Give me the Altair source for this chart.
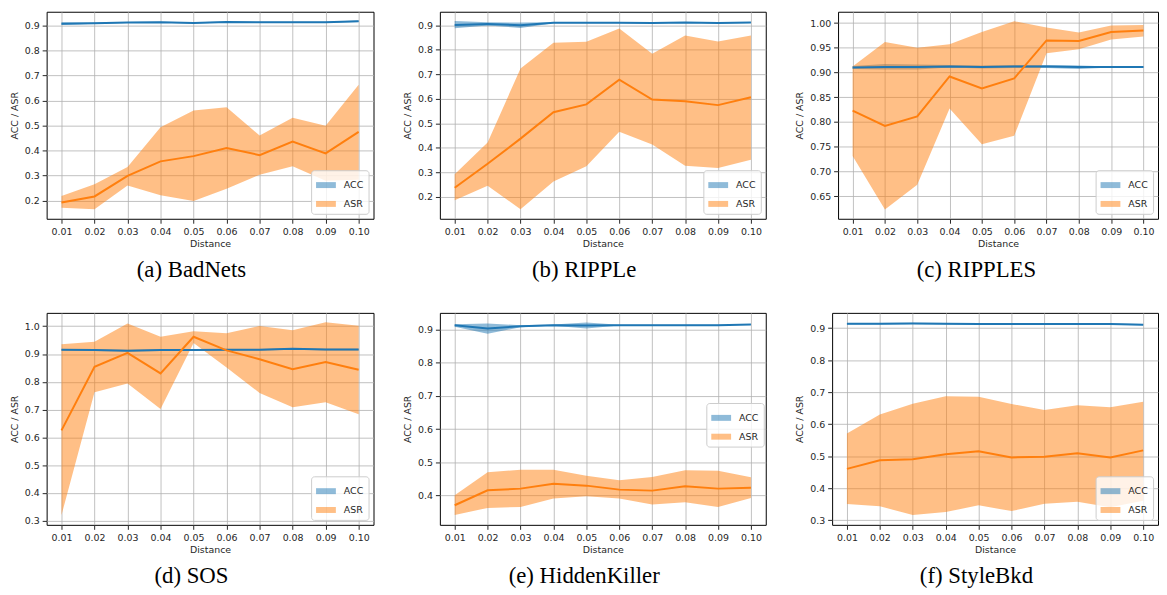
import altair as alt
import pandas as pd

DIST = [0.01, 0.02, 0.03, 0.04, 0.05, 0.06, 0.07, 0.08, 0.09, 0.10]
SERIES = ["ACC", "ASR"]
COLORS = ["#1f77b4", "#ff7f0e"]

# (a) BadNets
BADNETS_ACC = [0.906, 0.908, 0.911, 0.912, 0.909, 0.913, 0.912, 0.912, 0.912, 0.916]
BADNETS_ACC_LO = [0.901, 0.906, 0.909, 0.910, 0.907, 0.911, 0.910, 0.910, 0.910, 0.913]
BADNETS_ACC_HI = [0.912, 0.911, 0.913, 0.914, 0.912, 0.915, 0.914, 0.914, 0.914, 0.919]
BADNETS_ASR = [0.193, 0.217, 0.299, 0.357, 0.378, 0.410, 0.382, 0.436, 0.389, 0.475]
BADNETS_ASR_LO = [0.172, 0.166, 0.261, 0.222, 0.199, 0.248, 0.304, 0.338, 0.280, 0.284]
BADNETS_ASR_HI = [0.219, 0.266, 0.335, 0.493, 0.560, 0.573, 0.460, 0.531, 0.499, 0.663]

# (b) RIPPLe
RIPPLE_ACC = [0.902, 0.906, 0.901, 0.911, 0.911, 0.911, 0.910, 0.912, 0.910, 0.912]
RIPPLE_ACC_LO = [0.888, 0.900, 0.890, 0.909, 0.909, 0.909, 0.908, 0.910, 0.908, 0.910]
RIPPLE_ACC_HI = [0.918, 0.913, 0.912, 0.913, 0.913, 0.913, 0.912, 0.914, 0.912, 0.914]
RIPPLE_ASR = [0.236, 0.334, 0.437, 0.545, 0.577, 0.678, 0.597, 0.590, 0.574, 0.606]
RIPPLE_ASR_LO = [0.185, 0.244, 0.148, 0.261, 0.324, 0.465, 0.413, 0.326, 0.317, 0.350]
RIPPLE_ASR_HI = [0.291, 0.421, 0.724, 0.829, 0.833, 0.887, 0.784, 0.859, 0.834, 0.859]

# (c) RIPPLES
RIPPLES_ACC = [0.910, 0.911, 0.911, 0.912, 0.911, 0.912, 0.912, 0.911, 0.911, 0.911]
RIPPLES_ACC_LO = [0.907, 0.906, 0.906, 0.910, 0.908, 0.909, 0.909, 0.907, 0.910, 0.910]
RIPPLES_ACC_HI = [0.913, 0.917, 0.916, 0.915, 0.914, 0.915, 0.915, 0.914, 0.912, 0.912]
RIPPLES_ASR = [0.823, 0.792, 0.811, 0.892, 0.868, 0.888, 0.965, 0.964, 0.982, 0.985]
RIPPLES_ASR_LO = [0.731, 0.623, 0.673, 0.827, 0.755, 0.772, 0.939, 0.947, 0.967, 0.973]
RIPPLES_ASR_HI = [0.912, 0.962, 0.950, 0.957, 0.982, 1.004, 0.991, 0.981, 0.995, 0.996]

# (d) SOS
SOS_ACC = [0.915, 0.914, 0.912, 0.914, 0.914, 0.915, 0.915, 0.919, 0.916, 0.916]
SOS_ACC_LO = [0.912, 0.911, 0.909, 0.911, 0.911, 0.912, 0.912, 0.916, 0.913, 0.913]
SOS_ACC_HI = [0.918, 0.917, 0.915, 0.917, 0.917, 0.918, 0.918, 0.922, 0.919, 0.919]
SOS_ASR = [0.625, 0.854, 0.904, 0.830, 0.962, 0.913, 0.881, 0.845, 0.871, 0.843]
SOS_ASR_LO = [0.320, 0.762, 0.794, 0.702, 0.940, 0.851, 0.760, 0.708, 0.726, 0.683]
SOS_ASR_HI = [0.935, 0.944, 1.010, 0.962, 0.982, 0.975, 1.001, 0.985, 1.014, 1.002]

# (e) HiddenKiller
HK_ACC = [0.913, 0.903, 0.910, 0.913, 0.912, 0.913, 0.913, 0.913, 0.913, 0.915]
HK_ACC_LO = [0.908, 0.887, 0.907, 0.911, 0.903, 0.912, 0.912, 0.912, 0.912, 0.914]
HK_ACC_HI = [0.916, 0.918, 0.913, 0.915, 0.921, 0.914, 0.914, 0.914, 0.914, 0.916]
HK_ASR = [0.371, 0.416, 0.421, 0.436, 0.430, 0.418, 0.415, 0.428, 0.421, 0.424]
HK_ASR_LO = [0.342, 0.363, 0.366, 0.391, 0.398, 0.391, 0.373, 0.380, 0.366, 0.393]
HK_ASR_HI = [0.401, 0.470, 0.478, 0.478, 0.460, 0.446, 0.456, 0.476, 0.475, 0.455]

# (f) StyleBkd
SB_ACC = [0.914, 0.914, 0.915, 0.914, 0.913, 0.913, 0.913, 0.913, 0.913, 0.911]
SB_ACC_LO = [0.912, 0.912, 0.913, 0.912, 0.911, 0.911, 0.911, 0.911, 0.911, 0.909]
SB_ACC_HI = [0.916, 0.916, 0.917, 0.916, 0.915, 0.915, 0.915, 0.915, 0.915, 0.913]
SB_ASR = [0.460, 0.487, 0.490, 0.506, 0.515, 0.496, 0.498, 0.509, 0.496, 0.518]
SB_ASR_LO = [0.350, 0.343, 0.316, 0.325, 0.346, 0.328, 0.351, 0.357, 0.340, 0.360]
SB_ASR_HI = [0.571, 0.630, 0.664, 0.687, 0.686, 0.663, 0.644, 0.659, 0.653, 0.670]

Y_TICKS_A = [0.2, 0.3, 0.4, 0.5, 0.6, 0.7, 0.8, 0.9]
Y_TICKS_C = [0.65, 0.70, 0.75, 0.80, 0.85, 0.90, 0.95, 1.00]
Y_TICKS_D = [0.3, 0.4, 0.5, 0.6, 0.7, 0.8, 0.9, 1.0]
Y_TICKS_E = [0.4, 0.5, 0.6, 0.7, 0.8, 0.9]
Y_TICKS_F = [0.3, 0.4, 0.5, 0.6, 0.7, 0.8, 0.9]

TEXT = "#262626"
LEGEND_SHAPE = "M-1,-0.3H1V0.3H-1Z"


def make_df(acc, acc_lo, acc_hi, asr, asr_lo, asr_hi):
    rows = []
    for i, d in enumerate(DIST):
        rows.append({"distance": d, "series": "ACC", "mean": acc[i], "lo": acc_lo[i], "hi": acc_hi[i]})
    for i, d in enumerate(DIST):
        rows.append({"distance": d, "series": "ASR", "mean": asr[i], "lo": asr_lo[i], "hi": asr_hi[i]})
    return pd.DataFrame(rows)


def panel(caption, df, ydom, yticks, yfmt, width, height, legend):
    x = alt.X("distance:Q", title="Distance",
              scale=alt.Scale(domain=[0.0055, 0.1045], nice=False, zero=False),
              axis=alt.Axis(values=DIST, format=".2f"))
    yaxis = alt.Axis(values=yticks, format=yfmt)
    yscale = alt.Scale(domain=ydom, nice=False, zero=False)
    cscale = alt.Scale(domain=SERIES, range=COLORS)
    base = alt.Chart(df)
    band = base.mark_area(opacity=0.5, clip=True).encode(
        x=x,
        y=alt.Y("lo:Q", title="ACC / ASR", scale=yscale, axis=yaxis),
        y2="hi:Q",
        fill=alt.Fill("series:N", scale=cscale, legend=legend),
    )
    line = base.mark_line(strokeWidth=2, clip=True).encode(
        x=x,
        y=alt.Y("mean:Q", title="ACC / ASR", scale=yscale, axis=yaxis),
        stroke=alt.Stroke("series:N", scale=cscale, legend=None),
    )
    return alt.layer(band, line).properties(
        width=width, height=height,
        title=alt.TitleParams(caption, orient="bottom", anchor="middle", frame="bounds", offset=11),
    )


def leg(**kw):
    return alt.Legend(title=None, symbolType=LEGEND_SHAPE, symbolSize=400, symbolOpacity=0.5,
                      symbolStrokeWidth=0, labelFont="DejaVu Sans", labelFontSize=9.5,
                      labelColor=TEXT, labelOffset=8, rowPadding=4, padding=5, cornerRadius=3,
                      strokeColor="#cccccc", fillColor="rgba(255,255,255,0.8)", **kw)


H1 = 209
H2 = 214

pa = panel("(a) BadNets",
           make_df(BADNETS_ACC, BADNETS_ACC_LO, BADNETS_ACC_HI, BADNETS_ASR, BADNETS_ASR_LO, BADNETS_ASR_HI),
           [0.128, 0.954], Y_TICKS_A, ".1f", 330, H1, leg(orient="bottom-right", offset=5))
pb = panel("(b) RIPPLe",
           make_df(RIPPLE_ACC, RIPPLE_ACC_LO, RIPPLE_ACC_HI, RIPPLE_ASR, RIPPLE_ASR_LO, RIPPLE_ASR_HI),
           [0.109, 0.956], Y_TICKS_A, ".1f", 329, H1, leg(orient="bottom-right", offset=5))
pc = panel("(c) RIPPLES",
           make_df(RIPPLES_ACC, RIPPLES_ACC_LO, RIPPLES_ACC_HI, RIPPLES_ASR, RIPPLES_ASR_LO, RIPPLES_ASR_HI),
           [0.604, 1.023], Y_TICKS_C, ".2f", 323, H1, leg(orient="bottom-right", offset=5))
pd_ = panel("(d) SOS",
            make_df(SOS_ACC, SOS_ACC_LO, SOS_ACC_HI, SOS_ASR, SOS_ASR_LO, SOS_ASR_HI),
            [0.285, 1.048], Y_TICKS_D, ".1f", 330, H2, leg(orient="bottom-right", offset=5))
pe = panel("(e) HiddenKiller",
           make_df(HK_ACC, HK_ACC_LO, HK_ACC_HI, HK_ASR, HK_ASR_LO, HK_ASR_HI),
           [0.312, 0.950], Y_TICKS_E, ".1f", 329, H2, leg(orient="none", legendX=269, legendY=91))
pf = panel("(f) StyleBkd",
           make_df(SB_ACC, SB_ACC_LO, SB_ACC_HI, SB_ASR, SB_ASR_LO, SB_ASR_HI),
           [0.285, 0.948], Y_TICKS_F, ".1f", 329, H2, leg(orient="bottom-right", offset=5))

RES = dict(fill="independent", stroke="independent", y="independent")
row1 = alt.hconcat(pa, pb, pc, spacing=27).resolve_scale(**RES)
row2 = alt.hconcat(pd_, pe, pf, spacing=27).resolve_scale(**RES)

chart = alt.vconcat(row1, row2, spacing=30).resolve_scale(**RES).properties(
    padding={"left": 0, "top": 0, "right": 0, "bottom": 0}
).configure(
    font="DejaVu Sans",
).configure_view(
    stroke="#000000", strokeWidth=1,
).configure_axis(
    labelFont="DejaVu Sans", labelFontSize=9.5, labelColor=TEXT,
    titleFont="DejaVu Sans", titleFontSize=9.5, titleFontWeight="normal", titleColor=TEXT,
    tickColor=TEXT, tickSize=4.5, tickWidth=1, labelPadding=3,
    grid=True, gridColor="#b0b0b0", gridWidth=0.8,
    domain=False, labelFlush=False, labelOverlap=False,
).configure_axisX(
    titlePadding=3,
).configure_axisY(
    titlePadding=5,
).configure_title(
    font="Liberation Serif", fontSize=23, fontWeight="normal", color="#000000",
)

chart.save("out.html", embed_options={"renderer": "svg", "actions": False})
